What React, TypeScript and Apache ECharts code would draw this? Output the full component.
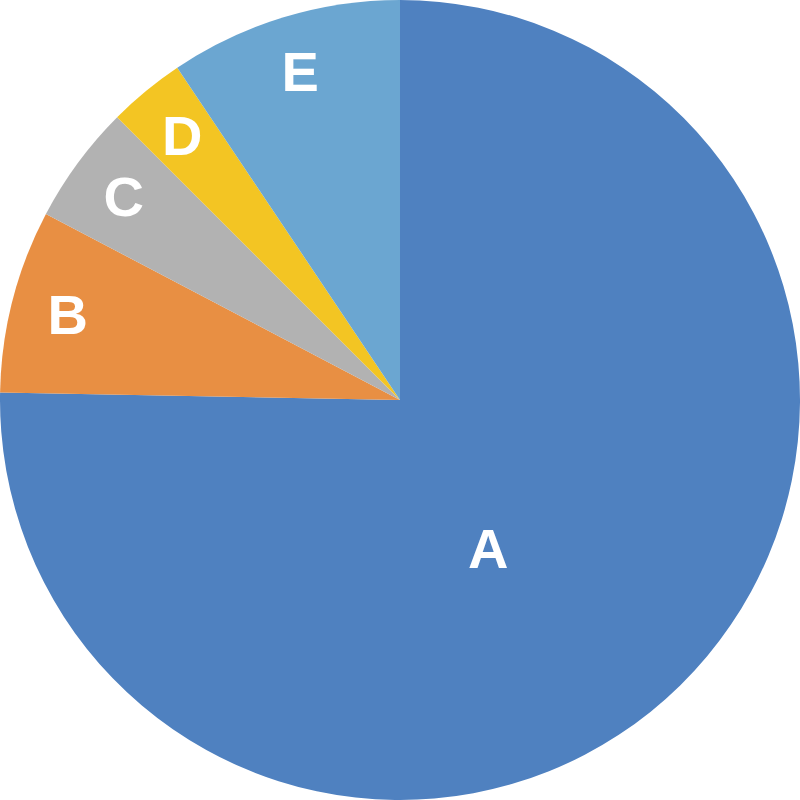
import React, { useEffect, useRef } from 'react';
import * as echarts from 'echarts';

const categories = ['A', 'B', 'C', 'D', 'E'];
const values = [75.3, 7.4, 4.8, 3.1, 9.4];
const colors = ['#4F81C0', '#E88F43', '#B2B2B2', '#F3C523', '#6BA6D1'];

const labelStyle = {
  color: '#fff',
  fontSize: 56,
  fontWeight: 'bold' as const,
  fontFamily: 'Liberation Sans, Arial, sans-serif',
};

const App: React.FC = () => {
  const chartRef = useRef<HTMLDivElement>(null);

  useEffect(() => {
    document.body.style.margin = '0';
    const chart = echarts.init(chartRef.current!, undefined, { renderer: 'svg' });

    // the slices themselves, only A gets its label here
    const sliceData = categories.map((name, i) => ({
      name,
      value: values[i],
      itemStyle: { color: colors[i] },
      label: { show: i === 0 },
    }));

    // transparent copy with a bigger radius so small slice labels sit near the rim
    const labelData = categories.map((name, i) => ({
      name,
      value: values[i],
      itemStyle: { color: 'rgba(0,0,0,0)' },
      label: { show: i !== 0 },
    }));

    chart.setOption({
      animation: false,
      series: [
        {
          type: 'pie',
          center: ['50%', '50%'],
          radius: ['0%', '100%'],
          startAngle: 90,
          clockwise: true,
          avoidLabelOverlap: false,
          itemStyle: { borderWidth: 0 },
          label: { position: 'inside', formatter: '{b}', ...labelStyle },
          labelLine: { show: false },
          labelLayout: { dx: -54, dy: 4 },
          emphasis: { disabled: true },
          data: sliceData,
        },
        {
          type: 'pie',
          center: ['50%', '50%'],
          radius: ['0%', '170%'],
          startAngle: 90,
          clockwise: true,
          silent: true,
          z: 3,
          avoidLabelOverlap: false,
          itemStyle: { borderWidth: 0 },
          label: { position: 'inside', formatter: '{b}', ...labelStyle },
          labelLine: { show: false },
          emphasis: { disabled: true },
          data: labelData,
        },
      ],
    });

    return () => {
      chart.dispose();
    };
  }, []);

  return (
    <div
      ref={chartRef}
      style={{ position: 'fixed', left: 0, top: 0, width: '800px', height: '800px' }}
    />
  );
};

export default App;
